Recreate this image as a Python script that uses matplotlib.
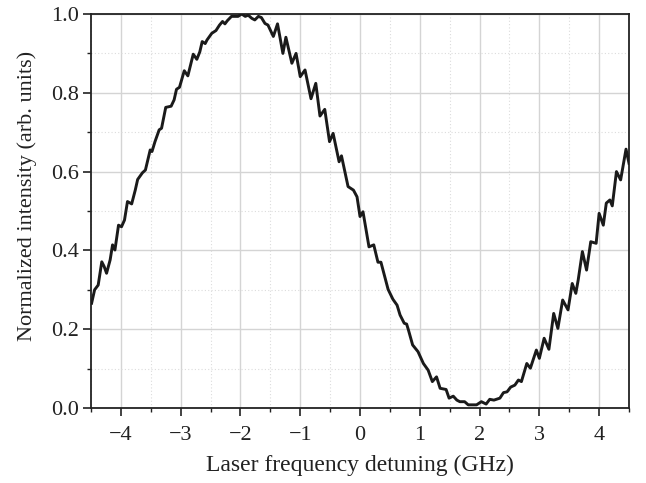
import matplotlib
matplotlib.use("Agg")
import matplotlib.pyplot as plt
from matplotlib.ticker import MultipleLocator

detuning_ghz = [
    -4.49, -4.44, -4.38, -4.32, -4.28, -4.24, -4.18, -4.14, -4.10, -4.04,
    -3.99, -3.94, -3.89, -3.82, -3.76, -3.72, -3.64, -3.59, -3.51, -3.48,
    -3.43, -3.36, -3.32, -3.25, -3.16, -3.11, -3.07, -3.02, -2.94, -2.88,
    -2.79, -2.73, -2.68, -2.64, -2.59, -2.56, -2.48, -2.41, -2.35, -2.30,
    -2.26, -2.22, -2.15, -2.04, -1.98, -1.92, -1.87, -1.81, -1.76, -1.70,
    -1.65, -1.59, -1.54, -1.45, -1.38, -1.29, -1.24, -1.14, -1.07, -1.00,
    -0.92, -0.82, -0.74, -0.67, -0.59, -0.51, -0.45, -0.35, -0.31, -0.20,
    -0.11, -0.05, 0.00, 0.05, 0.15, 0.23, 0.30, 0.35, 0.47, 0.55,
    0.62, 0.67, 0.74, 0.78, 0.81, 0.88, 0.97, 1.06, 1.14, 1.21,
    1.28, 1.34, 1.44, 1.49, 1.56, 1.62, 1.67, 1.75, 1.81, 1.95,
    2.03, 2.11, 2.17, 2.24, 2.34, 2.40, 2.46, 2.52, 2.59, 2.65,
    2.70, 2.79, 2.85, 2.95, 3.00, 3.08, 3.16, 3.24, 3.31, 3.39,
    3.48, 3.55, 3.61, 3.65, 3.72, 3.79, 3.86, 3.95, 4.00, 4.07,
    4.12, 4.18, 4.22, 4.29, 4.36, 4.45, 4.50,
]
intensity = [
    0.266, 0.300, 0.312, 0.371, 0.359, 0.342, 0.376, 0.414, 0.401, 0.464,
    0.460, 0.477, 0.524, 0.518, 0.553, 0.580, 0.597, 0.604, 0.655, 0.651,
    0.676, 0.706, 0.710, 0.763, 0.766, 0.782, 0.809, 0.814, 0.856, 0.843,
    0.898, 0.885, 0.904, 0.930, 0.925, 0.934, 0.951, 0.958, 0.972, 0.981,
    0.975, 0.983, 0.994, 0.994, 1.000, 0.994, 0.997, 0.989, 0.985, 0.994,
    0.991, 0.976, 0.972, 0.943, 0.975, 0.900, 0.941, 0.875, 0.900, 0.841,
    0.858, 0.785, 0.824, 0.741, 0.758, 0.676, 0.697, 0.625, 0.640, 0.562,
    0.553, 0.536, 0.486, 0.498, 0.409, 0.414, 0.370, 0.370, 0.301, 0.276,
    0.261, 0.236, 0.215, 0.213, 0.198, 0.160, 0.143, 0.113, 0.096, 0.067,
    0.079, 0.050, 0.047, 0.025, 0.030, 0.020, 0.016, 0.016, 0.008, 0.008,
    0.016, 0.010, 0.022, 0.020, 0.025, 0.039, 0.041, 0.053, 0.058, 0.071,
    0.067, 0.113, 0.101, 0.147, 0.126, 0.177, 0.149, 0.240, 0.202, 0.274,
    0.249, 0.316, 0.291, 0.325, 0.397, 0.350, 0.422, 0.418, 0.494, 0.464,
    0.520, 0.528, 0.513, 0.600, 0.579, 0.657, 0.621,
]
xticks = [-4, -3, -2, -1, 0, 1, 2, 3, 4]
yticks = [0.0, 0.2, 0.4, 0.6, 0.8, 1.0]

plt.rcParams['font.family'] = ['Liberation Serif', 'DejaVu Serif']

fig = plt.figure(figsize=(6.46, 4.83), dpi=100)
ax = fig.add_axes([0.1409, 0.1553, 0.8328, 0.8157])

ax.plot(detuning_ghz, intensity, color='#1a1a1a', lw=2.1, zorder=3,
        solid_joinstyle='round')

ax.set_xlim(-4.5, 4.5)
ax.set_ylim(0.0, 1.0)
ax.set_xticks(xticks)
ax.set_xticklabels(['\u2212%d' % -v if v < 0 else '%d' % v for v in xticks])
ax.set_yticks(yticks)
ax.set_yticklabels(['%.1f' % v for v in yticks])
ax.xaxis.set_minor_locator(MultipleLocator(0.5))
ax.yaxis.set_minor_locator(MultipleLocator(0.1))

ax.grid(which='major', color='#d4d4d4', lw=1.0, ls='-', zorder=0)
ax.grid(which='minor', color='#dcdcdc', lw=0.8, ls=(0, (1, 2)), zorder=0)
ax.set_axisbelow(True)

ax.tick_params(axis='y', which='major', direction='out', length=6, width=1.2,
               labelsize=16, colors='#222222', pad=3)
ax.tick_params(axis='x', which='major', direction='out', length=6, width=1.2,
               labelsize=16, colors='#222222', pad=7)
ax.tick_params(which='minor', direction='out', length=3, width=1.0,
               colors='#222222')
ax.tick_params(top=False, right=False, which='both')
for s in ax.spines.values():
    s.set_linewidth(1.3)
    s.set_color('#222222')

ax.set_xlabel('Laser frequency detuning (GHz)', fontsize=17, color='#222222', labelpad=7)
ax.set_ylabel('Normalized intensity (arb. units)', fontsize=16, color='#222222')
ax.yaxis.set_label_coords(-0.10, 0.537)

fig.savefig('out.png', dpi=100)
